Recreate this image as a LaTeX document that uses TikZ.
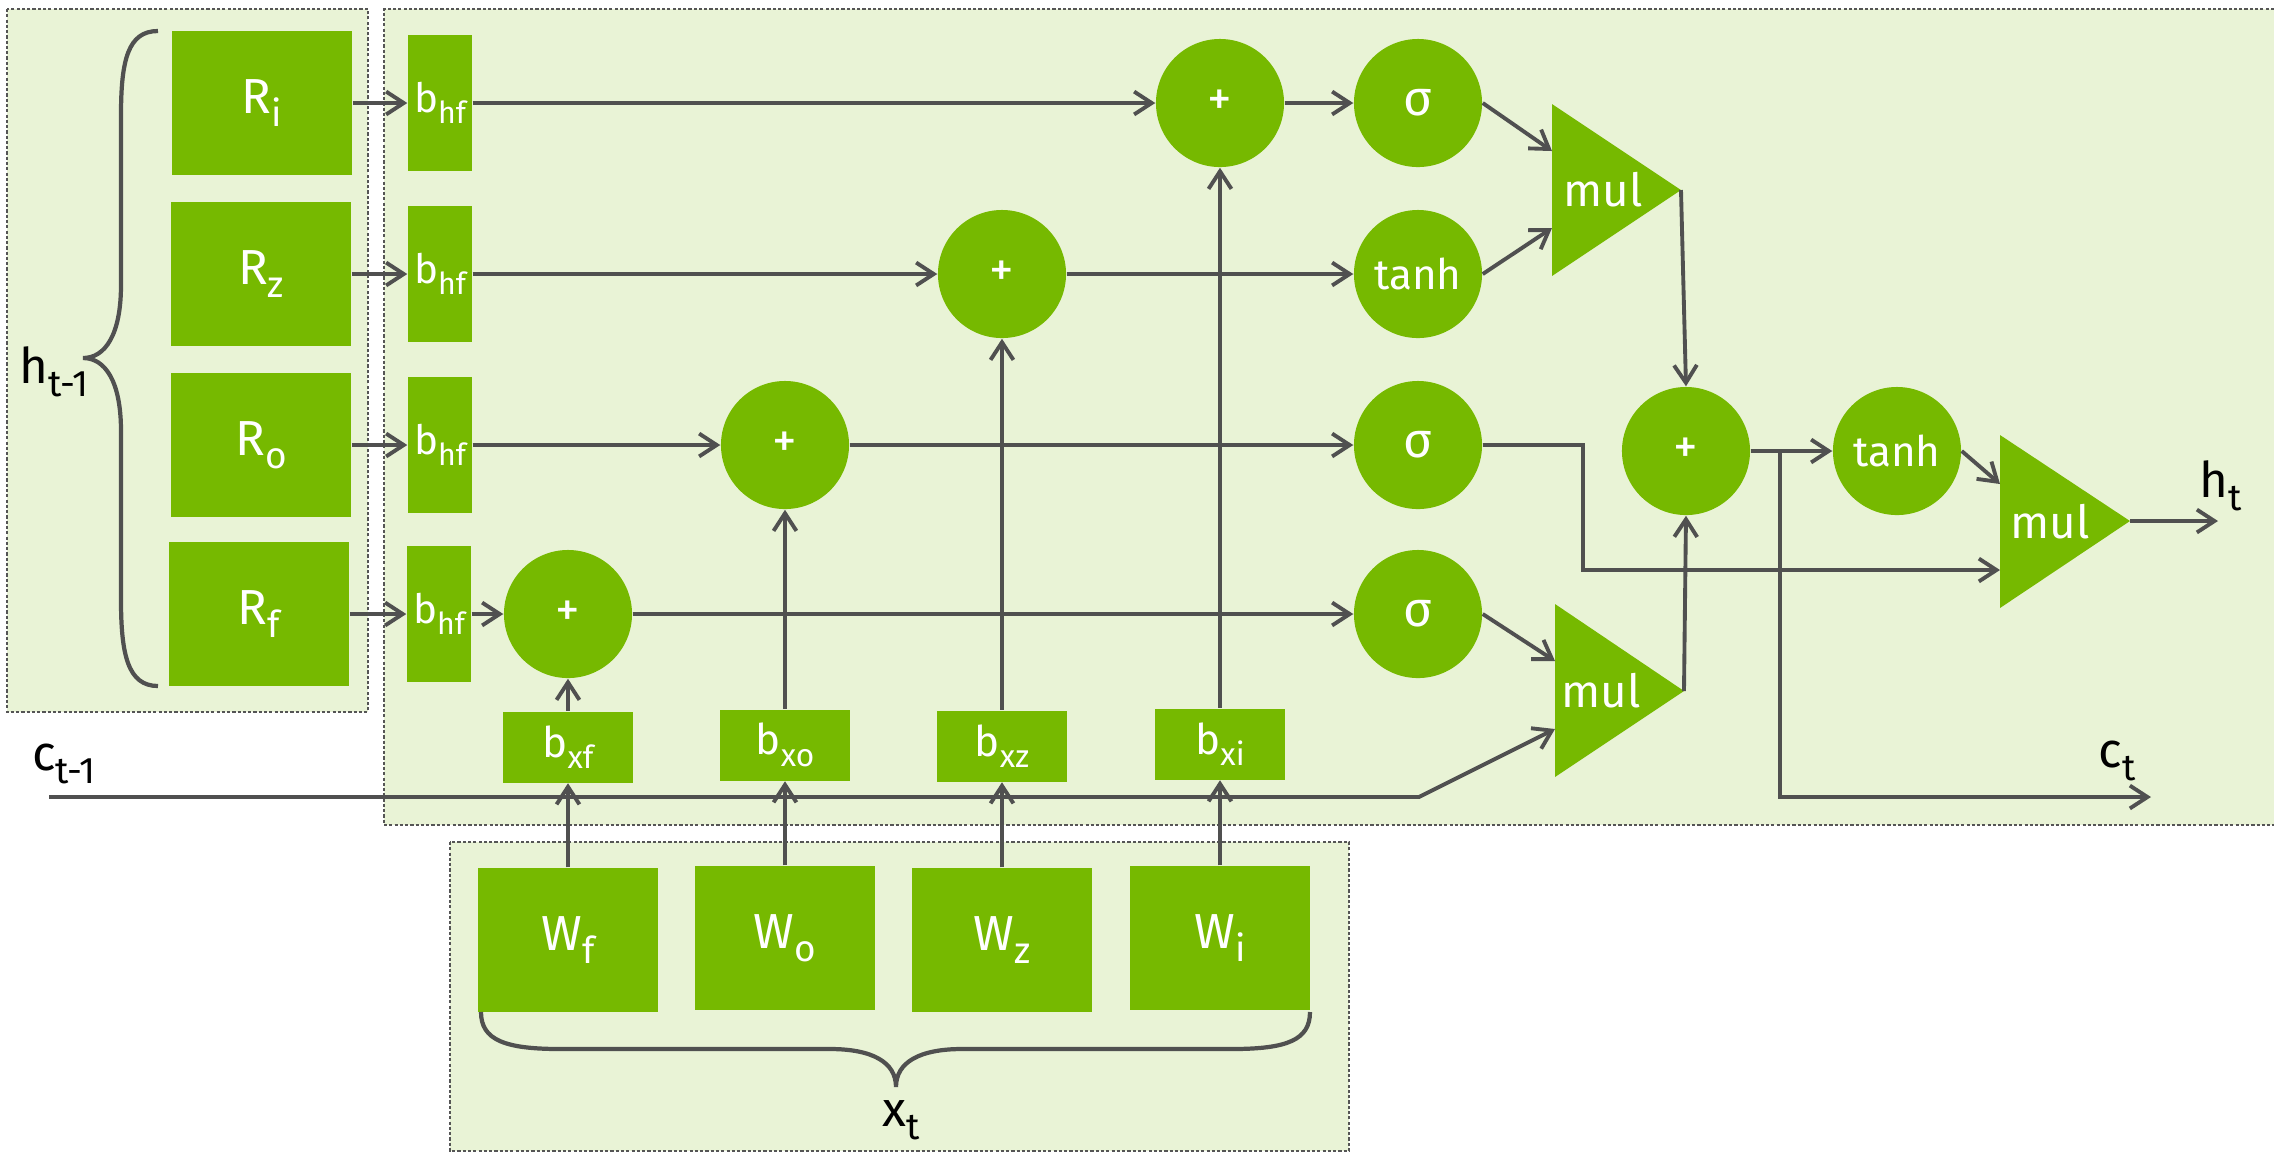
\documentclass[tikz,border=0pt]{standalone}
\usepackage{fontspec}
\setmainfont{Fira Sans}
\usepackage{graphicx}
\usetikzlibrary{arrows.meta}
\definecolor{nvgreen}{RGB}{118,185,0}
\definecolor{panelc}{RGB}{233,243,214}
\definecolor{linc}{RGB}{80,80,80}
\definecolor{dotc}{RGB}{85,85,85}
\newcommand\sbs[1]{\raisebox{-0.27em}{\scalebox{0.75}{#1}}}
\begin{document}
\begin{tikzpicture}[x=0.01cm,y=-0.01cm,
  every node/.style={inner sep=0pt},
  bigbox/.style={fill=nvgreen,text=white,minimum width=1.8cm,minimum height=1.43cm,font=\fontsize{14}{14}\selectfont},
  hbox/.style={fill=nvgreen,text=white,minimum width=0.64cm,minimum height=1.35cm,font=\fontsize{11.5}{11.5}\selectfont},
  xbox/.style={fill=nvgreen,text=white,minimum width=1.29cm,minimum height=0.71cm,font=\fontsize{12}{12}\selectfont},
  op/.style={circle,fill=nvgreen,text=white,minimum size=1.28cm},
  plusop/.style={op,font=\fontsize{14}{14}\selectfont},
  fnop/.style={op,font=\fontsize{12}{12}\selectfont},
  sigop/.style={op,font=\fontsize{14}{14}\selectfont},
  mullabel/.style={text=white,font=\fontsize{13}{13}\selectfont},
  lbl/.style={text=black,font=\fontsize{14}{14}\selectfont},
  conn/.style={draw=linc,line width=1.1pt},
  arr/.style={conn,-{Straight Barb[length=5pt,width=6.5pt]}},
  dots/.style={draw=dotc,line width=0.75pt,dash pattern=on 0.9pt off 0.6pt},
  brace/.style={draw=linc,line width=1.2pt}
]
\useasboundingbox (0,0) rectangle (2274,1159);
% panels
\fill[panelc] (7,9) rectangle (368,712);
\draw[dots] (7,9) rectangle (368,712);
\fill[panelc] (384,9) rectangle (2274,825);
\draw[dots] (2274,9) -- (384,9) -- (384,825) -- (2274,825);
\fill[panelc] (450,842) rectangle (1349,1151);
\draw[dots] (450,842) rectangle (1349,1151);

% R boxes
\node[bigbox] (Ri) at (262,103) {R\sbs{i}};
\node[bigbox] (Rz) at (261,274) {R\sbs{z}};
\node[bigbox] (Ro) at (261,445) {R\sbs{o}};
\node[bigbox] (Rf) at (259,614) {R\sbs{f}};

% b_hf boxes
\node[hbox] (bh1) at (440,103) {b\sbs{hf}};
\node[hbox] (bh2) at (440,274) {b\sbs{hf}};
\node[hbox] (bh3) at (440,445) {b\sbs{hf}};
\node[hbox] (bh4) at (439,614) {b\sbs{hf}};

% adders
\node[plusop] (p1) at (1220,103) {+};
\node[plusop] (p2) at (1002,274) {+};
\node[plusop] (p3) at (785,445) {+};
\node[plusop] (p4) at (568,614) {+};

% activations
\node[sigop] (s1) at (1418,103) {σ};
\node[fnop] (t1) at (1418,274) {tanh};
\node[sigop] (s3) at (1418,445) {σ};
\node[sigop] (s4) at (1418,614) {σ};
\node[plusop] (pc) at (1686,451) {+};
\node[fnop] (tc) at (1897,451) {tanh};

% b_x boxes
\node[xbox] (bxf) at (568,747) {b\sbs{xf}};
\node[xbox] (bxo) at (785,745) {b\sbs{xo}};
\node[xbox] (bxz) at (1002,746) {b\sbs{xz}};
\node[xbox] (bxi) at (1220,744) {b\sbs{xi}};

% W boxes
\node[bigbox,minimum height=1.44cm] (Wf) at (568,940) {W\sbs{f}};
\node[bigbox,minimum height=1.44cm] (Wo) at (785,938) {W\sbs{o}};
\node[bigbox,minimum height=1.44cm] (Wz) at (1002,940) {W\sbs{z}};
\node[bigbox,minimum height=1.44cm] (Wi) at (1220,938) {W\sbs{i}};

% multipliers
\fill[nvgreen] (1552,104) -- (1681,190) -- (1552,276) -- cycle;
\node[mullabel] (mul1) at (1603,190) {mul};
\fill[nvgreen] (1555,604) -- (1684,691) -- (1555,777) -- cycle;
\node[mullabel] (mul2) at (1601,691) {mul};
\fill[nvgreen] (2000,435) -- (2130,521) -- (2000,608) -- cycle;
\node[mullabel] (mul3) at (2050,522) {mul};
\coordinate (m1a) at (1552,151);
\coordinate (m1b) at (1552,228);
\coordinate (m1t) at (1681,190);
\coordinate (m2a) at (1555,661);
\coordinate (m2b) at (1555,729);
\coordinate (m2t) at (1684,691);
\coordinate (m3a) at (2000,484);
\coordinate (m3b) at (2000,570);
\coordinate (m3t) at (2130,521);

% labels
\node[lbl] (hprev) at (54,372) {h\sbs{t-1}};
\node[lbl] (cprev) at (64,764) {c\sbs{t-1}};
\node[lbl] (hout) at (2221,486) {h\sbs{t}};
\node[lbl] (cout) at (2117,761) {c\sbs{t}};
\node[lbl] (xin) at (901,1120) {x\sbs{t}};

% braces
\draw[brace] (158,31) .. controls (128,31) and (121,60) .. (121,115)
  -- (121,285) .. controls (121,335) and (105,358) .. (83,358)
  .. controls (105,358) and (121,381) .. (121,431)
  -- (121,600) .. controls (121,655) and (128,686) .. (158,686);
\draw[brace] (481,1012) .. controls (481,1040) and (505,1049) .. (560,1049)
  -- (830,1049) .. controls (872,1049) and (896,1062) .. (896,1087)
  .. controls (896,1062) and (920,1049) .. (962,1049)
  -- (1232,1049) .. controls (1287,1049) and (1310,1040) .. (1310,1012);

% R -> b_hf
\draw[arr] (Ri) -- (bh1);
\draw[arr] (Rz) -- (bh2);
\draw[arr] (Ro) -- (bh3);
\draw[arr] (Rf) -- (bh4);
% b_hf -> adders
\draw[arr] (bh1) -- (p1);
\draw[arr] (bh2) -- (p2);
\draw[arr] (bh3) -- (p3);
\draw[arr] (bh4) -- (p4);
% adders -> activations
\draw[arr] (p1) -- (s1);
\draw[arr] (p2) -- (t1);
\draw[arr] (p3) -- (s3);
\draw[arr] (p4) -- (s4);
% b_x -> adders
\draw[arr] (bxf) -- (p4);
\draw[arr] (bxo) -- (p3);
\draw[arr] (bxz) -- (p2);
\draw[arr] (bxi) -- (p1);
% W -> b_x
\draw[arr] (Wf) -- (bxf);
\draw[arr] (Wo) -- (bxo);
\draw[arr] (Wz) -- (bxz);
\draw[arr] (Wi) -- (bxi);
% cell state in
\coordinate (cstart) at (49,797);
\coordinate (cbend) at (1419,797);
\draw[arr] (cstart) -- (cbend) -- (m2b);
% gates -> multipliers
\draw[arr] (s1.east) -- (m1a);
\draw[arr] (t1.east) -- (m1b);
\draw[arr] (s4.east) -- (m2a);
\draw[arr] (m1t) -- (pc.north);
\draw[arr] (m2t) -- (pc.south);
% cell output
\draw[arr] (pc) -- (tc);
\coordinate (cbr) at (1780,451);
\coordinate (cdown) at (1780,797);
\coordinate (cend) at (2151,797);
\draw[arr] (cbr) -- (cdown) -- (cend);
\draw[arr] (tc.east) -- (m3a);
\coordinate (o1) at (1583,445);
\coordinate (o2) at (1583,570);
\draw[arr] (s3.east) -- (o1) -- (o2) -- (m3b);
\coordinate (hend) at (2218,521);
\draw[arr] (m3t) -- (hend);
\end{tikzpicture}
\end{document}
